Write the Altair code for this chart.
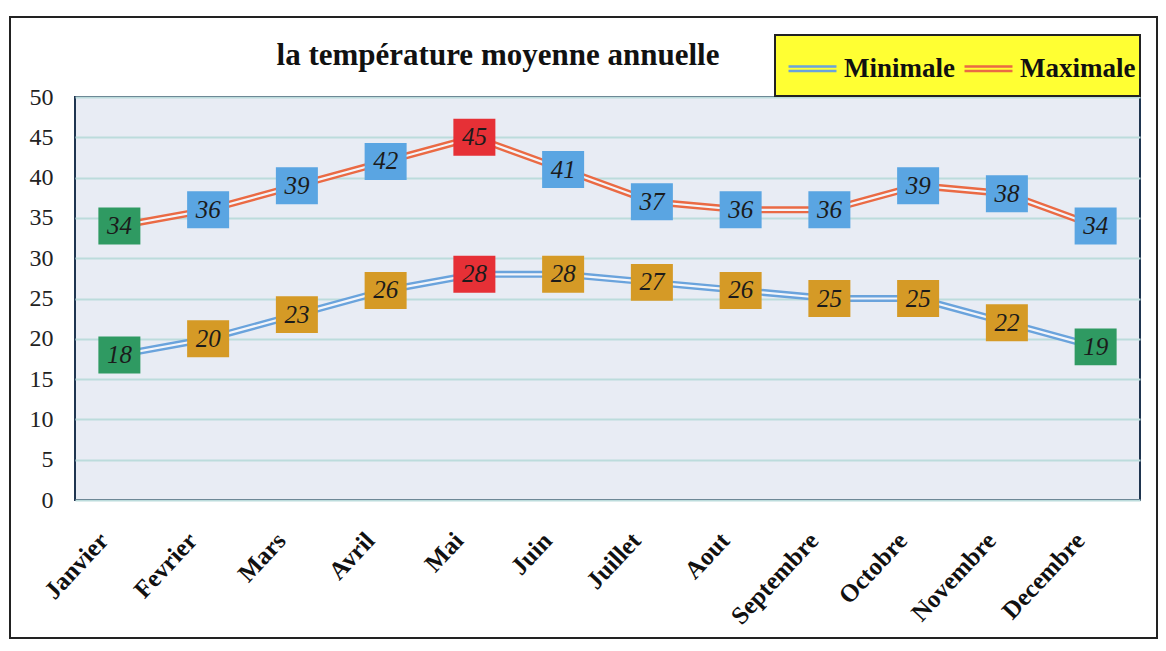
import altair as alt
import pandas as pd

months = ["Janvier", "Fevrier", "Mars", "Avril", "Mai", "Juin", "Juillet",
          "Aout", "Septembre", "Octobre", "Novembre", "Decembre"]
minimale = [18, 20, 23, 26, 28, 28, 27, 26, 25, 25, 22, 19]
maximale = [34, 36, 39, 42, 45, 41, 37, 36, 36, 39, 38, 34]
min_box = ["vert", "or", "or", "or", "rouge", "or", "or", "or", "or", "or", "or", "vert"]
max_box = ["vert", "bleu", "bleu", "bleu", "rouge", "bleu", "bleu", "bleu", "bleu", "bleu", "bleu", "bleu"]
series = ["Minimale", "Maximale"]
y_ticks = [0, 5, 10, 15, 20, 25, 30, 35, 40, 45, 50]
title_text = ["la température moyenne annuelle"]

rows = []
for i, m in enumerate(months):
    rows.append({"mois": m, "serie": "Minimale", "valeur": minimale[i], "boite": min_box[i]})
    rows.append({"mois": m, "serie": "Maximale", "valeur": maximale[i], "boite": max_box[i]})
df = pd.DataFrame(rows)

SERIF = "Liberation Serif"

x_enc = alt.X("mois:O", sort=months, title=None,
              scale=alt.Scale(type="point", padding=0.5),
              axis=alt.Axis(labelAngle=-47, labelAlign="right", labelBaseline="middle",
                            labelFont=SERIF, labelFontSize=25, labelFontWeight="bold",
                            labelColor="#111", labelPadding=36, labelOffset=-16,
                            domain=False, ticks=False, grid=False))
y_enc = alt.Y("valeur:Q", title=None,
              scale=alt.Scale(domain=[0, 50], nice=False),
              axis=alt.Axis(values=y_ticks, labelFont=SERIF, labelFontSize=24,
                            labelColor="#222", labelPadding=22, domain=False, ticks=False,
                            grid=True, gridColor="#bcdcdc", gridWidth=2))

one = pd.DataFrame({"titre": title_text})

frame = alt.Chart(one).mark_rect(fill=None, stroke="#222", strokeWidth=2).encode(
    x=alt.value(-65), x2=alt.value(1082), y=alt.value(-80), y2=alt.value(541))

title = alt.Chart(one).mark_text(font=SERIF, fontSize=31, fontWeight="bold", color="#111",
                                 align="center", baseline="alphabetic").encode(
    x=alt.value(423), y=alt.value(-32), text="titre:N")

legend_box = alt.Chart(one).mark_rect(fill="#ffff33", stroke="#222", strokeWidth=2).encode(
    x=alt.value(700), x2=alt.value(1065), y=alt.value(-62), y2=alt.value(-1))

lines = alt.Chart(df).mark_line(strokeWidth=7).encode(
    x=x_enc, y=y_enc,
    color=alt.Color("serie:N", sort=series,
                    scale=alt.Scale(domain=series, range=["#6aa3dc", "#ea6a44"]),
                    legend=alt.Legend(title=None, orient="none", legendX=712, legendY=-54,
                                      direction="horizontal",
                                      symbolType="M-1,-0.09L1,-0.09M-1,0.09L1,0.09",
                                      symbolSize=2300, symbolStrokeWidth=2.5,
                                      labelFont=SERIF, labelFontSize=27,
                                      labelFontWeight="bold", labelColor="#111",
                                      labelOffset=6, columnPadding=4, padding=0)))

inner = alt.Chart(df).mark_line(strokeWidth=2.2, color="#f3f5fa").encode(
    x=x_enc, y=y_enc, detail="serie:N")

boxes = alt.Chart(df).mark_point(shape="M-1,-0.88H1V0.88H-1Z", size=1764, filled=True,
                                  opacity=1, strokeWidth=0).encode(
    x=x_enc, y=y_enc,
    fill=alt.Fill("boite:N",
                  scale=alt.Scale(domain=["vert", "or", "bleu", "rouge"],
                                  range=["#2f9a62", "#d59a26", "#5aa5e2", "#e63036"]),
                  legend=None))

texts = alt.Chart(df).mark_text(font=SERIF, fontSize=25, fontStyle="italic",
                                color="#1b1b1b", baseline="middle").encode(
    x=x_enc, y=y_enc, text="valeur:Q")

chart = alt.layer(frame, title, legend_box, lines, inner, boxes, texts).properties(
    width=1065, height=403,
    padding={"left": 67, "top": 89, "right": 18, "bottom": 143},
    autosize=alt.AutoSizeParams(type="none"),
    background="white",
).configure_view(fill="#e8ecf4", stroke="#1f3550", strokeWidth=2)

chart.save("out.html", embed_options={"renderer": "svg", "actions": False})
